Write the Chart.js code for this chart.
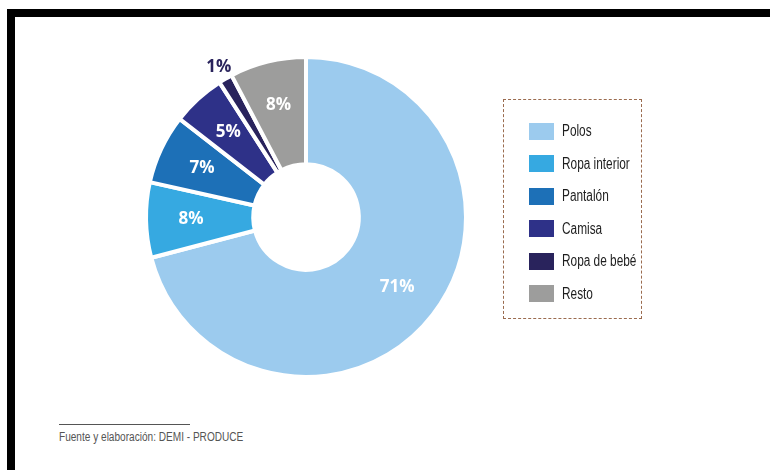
<!DOCTYPE html>
<html>
<head>
<meta charset="utf-8">
<script src="https://cdn.jsdelivr.net/npm/chart.js@4.4.1/dist/chart.umd.min.js"></script>
<style>
  html, body { margin: 0; padding: 0; background: #fff; }
  body { width: 770px; height: 470px; position: relative; overflow: hidden; }
  .frame-top { position: absolute; left: 7px; top: 9px; width: 763px; height: 8px; background: #000; }
  .frame-left { position: absolute; left: 7px; top: 9px; width: 8px; height: 461px; background: #000; }
  #wrap { position: absolute; left: 106px; top: 17px; width: 400px; height: 400px; }
  #legend {
    position: absolute; left: 503px; top: 99px; width: 139px; height: 220px;
    border: 1.5px dashed #9a6b4f; box-sizing: border-box;
    font-family: "Liberation Sans", Arial, sans-serif;
    font-size: 16px; color: #1e1e1e;
  }
  .item { position: absolute; left: 25px; height: 18px; display: flex; align-items: center; white-space: nowrap; }
  .sw { width: 25px; height: 17px; margin-right: 8px; flex: none; }
  .txt { display: inline-block; transform: scaleX(0.74); transform-origin: left center; }
  .src-line { position: absolute; left: 59px; top: 424px; width: 131px; height: 1px; background: #555; }
  .src { position: absolute; left: 59px; top: 430px; white-space: nowrap; font-family: "Liberation Sans", Arial, sans-serif; font-size: 12px; color: #555; transform: scaleX(0.84); transform-origin: left center; }
</style>
</head>
<body>
<div class="frame-top"></div>
<div class="frame-left"></div>
<div id="wrap"><canvas id="donut"></canvas></div>
<div id="legend"></div>
<div class="src-line"></div>
<div class="src">Fuente y elaboración: DEMI - PRODUCE</div>
<script>
// ===== DATA =====
const categories = ['Polos', 'Ropa interior', 'Pantalón', 'Camisa', 'Ropa de bebé', 'Resto'];
const shares = [70.9, 7.6, 7.0, 5.4, 1.4, 7.7];
const shareLabels = ['71%', '8%', '7%', '5%', '1%', '8%'];
const colors = ['#9ccbee', '#36a9e1', '#1d70b7', '#2e3188', '#29235c', '#9d9d9c'];

// ===== SLICE LABELS =====
const sliceLabels = {
  id: 'sliceLabels',
  afterDatasetsDraw(chart) {
    const { ctx } = chart;
    const meta = chart.getDatasetMeta(0);
    ctx.save();
    ctx.font = "bold 17px 'Open Sans', sans-serif";
    ctx.textAlign = 'center';
    ctx.textBaseline = 'middle';
    meta.data.forEach((arc, i) => {
      const { x, y, startAngle, endAngle, innerRadius, outerRadius } = arc.getProps(['x', 'y', 'startAngle', 'endAngle', 'innerRadius', 'outerRadius'], true);
      const mid = (startAngle + endAngle) / 2;
      const small = shares[i] < 3;
      const r = small ? outerRadius + 13 : innerRadius + (outerRadius - innerRadius) * 0.58;
      ctx.fillStyle = small ? '#29235c' : '#ffffff';
      ctx.fillText(shareLabels[i], x + Math.cos(mid) * r, y + Math.sin(mid) * r);
    });
    ctx.restore();
  }
};

new Chart(document.getElementById('donut'), {
  type: 'doughnut',
  data: {
    labels: categories,
    datasets: [{
      data: shares,
      backgroundColor: colors,
      borderColor: '#ffffff',
      borderWidth: 4,
      hoverOffset: 0,
    }]
  },
  options: {
    responsive: true,
    maintainAspectRatio: false,
    animation: false,
    radius: 160,
    cutout: '33%',
    layout: { padding: 0 },
    plugins: {
      legend: { display: false },
      tooltip: { enabled: false }
    }
  },
  plugins: [sliceLabels]
});

// ===== LEGEND =====
const legend = document.getElementById('legend');
categories.forEach((name, i) => {
  const row = document.createElement('div');
  row.className = 'item';
  row.style.top = (22 + i * 32.5) + 'px';
  row.innerHTML = '<span class="sw" style="background:' + colors[i] + '"></span><span class="txt">' + name + '</span>';
  legend.appendChild(row);
});
</script>
</body>
</html>
